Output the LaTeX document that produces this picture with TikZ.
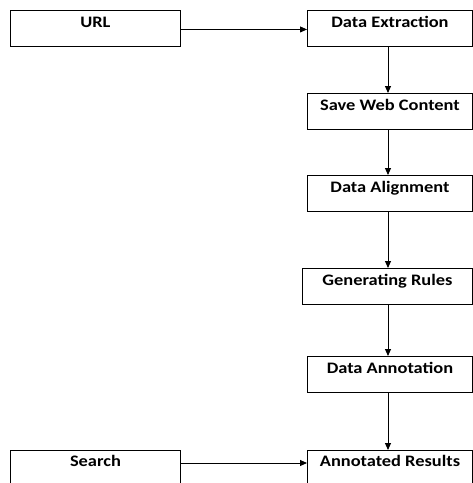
\documentclass[tikz,border=0pt]{standalone}
\usepackage{fontspec}
\setmainfont{Carlito}[FakeStretch=1.15]
\usetikzlibrary{arrows.meta}

\begin{document}
\begin{tikzpicture}[x=1pt,y=-1pt,
    stagebox/.style={draw,line width=0.9pt,inner sep=0pt,anchor=north west,
        minimum width=165pt,text height=17.3pt,text depth=18.7pt,
        font=\fontsize{16}{18}\selectfont\bfseries},
    flow/.style={-{Triangle[length=7pt,width=6pt]},line width=0.9pt}]
    % fix the page to the size of the reference and cut the boxes at the edge
    \useasboundingbox (0,0) rectangle (473,483);
    \clip (0,0) rectangle (473,483);
    % inputs on the left
    \node[stagebox,minimum width=170pt] (url) at (10,10) {URL};
    \node[stagebox,minimum width=170pt,text height=16pt,text depth=20pt] (search) at (10,450) {Search};
    % the processing chain on the right
    \node[stagebox] (ext) at (307,10) {Data Extraction};
    \node[stagebox] (save) at (307,93) {Save Web Content};
    \node[stagebox] (align) at (307,175) {Data Alignment};
    \node[stagebox,minimum width=170pt] (rules) at (302,268) {Generating Rules};
    \node[stagebox] (annot) at (307,356) {Data Annotation};
    \node[stagebox,text height=16pt,text depth=20pt] (results) at (307,450) {Annotated Results};
    % all the downward arrows share one vertical line
    \coordinate (spine) at (388,0);
    \foreach \a/\b in {ext/save,save/align,align/rules,rules/annot,annot/results} {
        \draw[flow] (\a.south -| spine) -- (\b.north -| spine);
    }
    % side arrows
    \draw[flow] ([yshift=-1pt]url.east) -- ([yshift=-1pt]ext.west);
    \draw[flow] ([yshift=-13pt]search.north east) -- ([yshift=-13pt]results.north west);
\end{tikzpicture}
\end{document}
